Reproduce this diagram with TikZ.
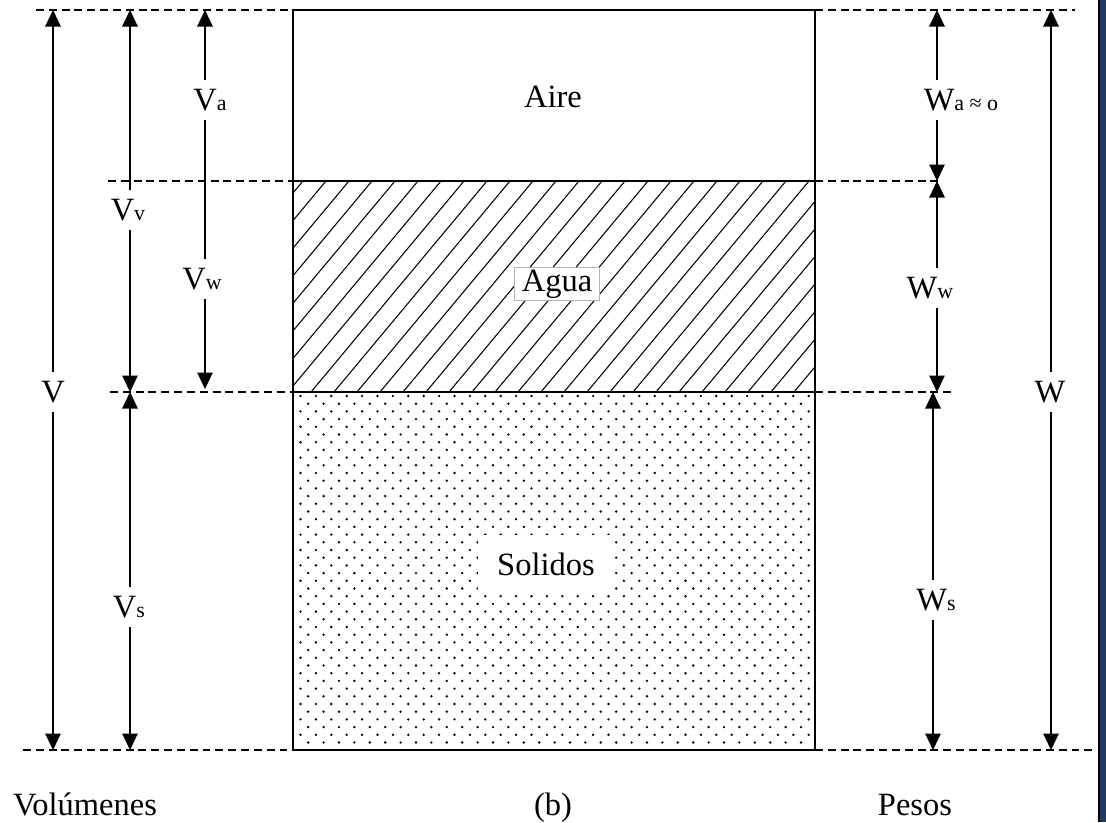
\documentclass[tikz,border=0pt]{standalone}
\usepackage{fontspec}
\setmainfont{Liberation Serif}
\usetikzlibrary{arrows.meta}
\usepackage{xcolor}

\definecolor{barblue}{RGB}{33,58,96}
\newcommand{\subtxt}[1]{{\fontsize{12.5}{14}\selectfont #1}}

\begin{document}
\begin{tikzpicture}[
  x=0.02cm, y=-0.02cm,
  dim/.style={-{Triangle[length=3.3mm, width=3.1mm]}, line width=0.6pt},
  guide/.style={dash pattern=on 4.5pt off 2.8pt, line width=0.6pt},
  lbl/.style={font=\fontsize{18.5}{21}\selectfont, inner sep=5pt}
]
\useasboundingbox (0,0) rectangle (1106,822);

% solids: dotted texture
\begin{scope}
\clip (293,392) rectangle (815,750);
\foreach \r in {0,...,47} {
  \foreach \c in {0,...,35} {
    \fill[black] ({293 + 7.5 + 15.4*\c + mod(\r,2)*7.7}, {392 + 4 + 7.7*\r}) circle (0.75pt);
  }
}
\end{scope}

% water: hatching
\begin{scope}
\clip (293,181) rectangle (815,392);
\foreach \k in {-1,...,31}
  \draw[line width=0.6pt] ({127 + 23*\k}, 392) -- ({303 + 23*\k}, 181);
\end{scope}

% the sample
\draw[line width=1.3pt] (293,10) rectangle (815,750);
\draw[line width=0.6pt] (293,181) -- (815,181);
\draw[line width=1pt] (293,392) -- (815,392);

\node[lbl] (aire) at (553,97) {Aire};
\node[lbl, fill=white, draw=black!30, line width=0.6pt, inner xsep=4pt, inner ysep=1.5pt] (agua) at (557,284) {Agua};
\node[lbl, fill=white, inner xsep=11pt, inner ysep=10pt] (solidos) at (546,564) {Solidos};

% level guides
\draw[guide] (36,10) -- (293,10);
\draw[guide] (815,10) -- (1075,10);
\draw[guide] (108,181) -- (293,181);
\draw[guide] (815,181) -- (940,181);
\draw[guide] (110,392) -- (293,392);
\draw[guide] (815,392) -- (953,392);
\draw[guide] (23,750) -- (293,750);
\draw[guide] (815,750) -- (1097,750);

% volumes
\coordinate (vT) at (53,10);    \coordinate (vB) at (53,750);
\coordinate (vvT) at (130,10);  \coordinate (vvB) at (130,392);
\coordinate (vsT) at (130,392); \coordinate (vsB) at (130,750);
\coordinate (vaT) at (205,10);  \coordinate (vwB) at (205,389);

\node[lbl] (V) at (53,392) {V};
\node[lbl] (Vv) at (128,210) {V\subtxt{v}};
\node[lbl] (Vs) at (129,607) {V\subtxt{s}};
\node[lbl] (Va) at (210,100) {V\subtxt{a}};
\node[lbl] (Vw) at (202,279) {V\subtxt{w}};

\draw[dim] (V.north) -- (vT);
\draw[dim] (V.south) -- (vB);
\draw[dim] (Vv.north -| vvT) -- (vvT);
\draw[dim] (Vv.south -| vvB) -- (vvB);
\draw[dim] (Vs.north -| vsT) -- (vsT);
\draw[dim] (Vs.south -| vsB) -- (vsB);
\draw[dim] (Va.north -| vaT) -- (vaT);
\draw[line width=0.6pt] (Va.south -| vaT) -- (Vw.north -| vaT);
\draw[dim] (Vw.south -| vaT) -- (vwB);

% weights
\coordinate (waT) at (937,10);  \coordinate (waB) at (937,181);
\coordinate (wwT) at (937,181); \coordinate (wwB) at (937,392);
\coordinate (wsT) at (933,392); \coordinate (wsB) at (933,750);
\coordinate (wT) at (1051,10);  \coordinate (wB) at (1051,750);

\node[lbl] (Wa) at (961,100) {W\subtxt{a ≈ o}};
\node[lbl] (Ww) at (930,288) {W\subtxt{w}};
\node[lbl] (Ws) at (936,600) {W\subtxt{s}};
\node[lbl] (W) at (1050,392) {W};

\draw[dim] (Wa.north -| waT) -- (waT);
\draw[dim] (Wa.south -| waB) -- (waB);
\draw[dim] (Ww.north -| wwT) -- (wwT);
\draw[dim] (Ww.south -| wwB) -- (wwB);
\draw[dim] (Ws.north -| wsT) -- (wsT);
\draw[dim] (Ws.south -| wsB) -- (wsB);
\draw[dim] (W.north -| wT) -- (wT);
\draw[dim] (W.south -| wB) -- (wB);

% captions
\node[lbl, anchor=base] (vol) at (85,815) {Volúmenes};
\node[lbl, anchor=base] (fig) at (553,815) {(b)};
\node[lbl, anchor=base] (pesos) at (915,815) {Pesos};

% right edge bar
\fill[barblue] (1099,0) rectangle (1106,822);
\draw[line width=0.6pt] (1099,0) -- (1099,822);
\end{tikzpicture}
\end{document}
